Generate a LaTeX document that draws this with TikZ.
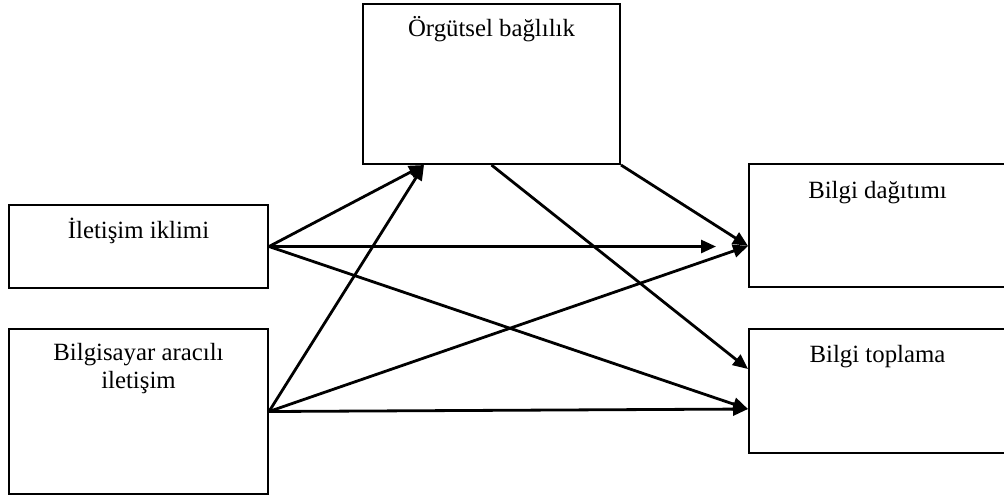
\documentclass[tikz,border=0pt]{standalone}
\usepackage{fontspec}
\setmainfont{Liberation Serif}
\usetikzlibrary{arrows.meta,calc}
\begin{document}
\begin{tikzpicture}[x=0.5pt,y=-0.5pt,
  box/.style={draw,line width=1pt,rectangle,inner sep=0pt},
  lbl/.style={anchor=base,inner sep=0pt,font=\fontsize{12.4}{13.6}\selectfont,align=center},
  link/.style={line width=1.4pt,-{Triangle[length=7.5pt,width=6.5pt]}}]
  \useasboundingbox (0,0) rectangle (1004,500);
  \clip (0,0) rectangle (1004,500);
  % boxes
  \node[box,minimum width=128.5pt,minimum height=80pt]   (org)  at (491.5,84)    {};
  \node[box,minimum width=129.5pt,minimum height=41.5pt] (ilet) at (138.5,246.5) {};
  \node[box,minimum width=129.5pt,minimum height=82.5pt] (bilg) at (138.5,411.5) {};
  \node[box,minimum width=131pt,minimum height=61.5pt]   (dag)  at (880,225.5)   {};
  \node[box,minimum width=131pt,minimum height=62pt]     (top)  at (880,391)     {};
  % labels
  \node[lbl] (orgt)  at ($(org.north)+(0,33)$)    {Örgütsel bağlılık};
  \node[lbl] (iltt)  at ($(ilet.north)+(0,34)$)   {İletişim iklimi};
  \node[lbl] (bilgt) at ($(bilg.north)+(0,60)$)   {Bilgisayar aracılı\\iletişim};
  \node[lbl] (dagt)  at ($(dag.north)+(-2.5,35)$) {Bilgi dağıtımı};
  \node[lbl] (topt)  at ($(top.north)+(-2.5,34)$) {Bilgi toplama};
  % arrow end points
  \coordinate (orgin)  at ($(org.south west)+(62,0)$);
  \coordinate (orgout) at (org.south);
  \coordinate (dagin)  at ($(dag.west)+(0,20.5)$);
  \coordinate (topin1) at ($(top.north west)+(0,41)$);
  \coordinate (topin2) at ($(top.north west)+(0,81)$);
  \coordinate (free)   at ($(ilet.east)+(447,0)$);
  % connectors
  \draw[link] (ilet.east) -- (orgin);
  \draw[link] (bilg.east) -- (orgin);
  \draw[link] (ilet.east) -- (free);
  \draw[link] (ilet.east) -- (topin2);
  \draw[link] (bilg.east) -- (dagin);
  \draw[link] (bilg.east) -- (topin2);
  \draw[link] (org.south east) -- (dagin);
  \draw[link] (orgout) -- (topin1);
\end{tikzpicture}
\end{document}
